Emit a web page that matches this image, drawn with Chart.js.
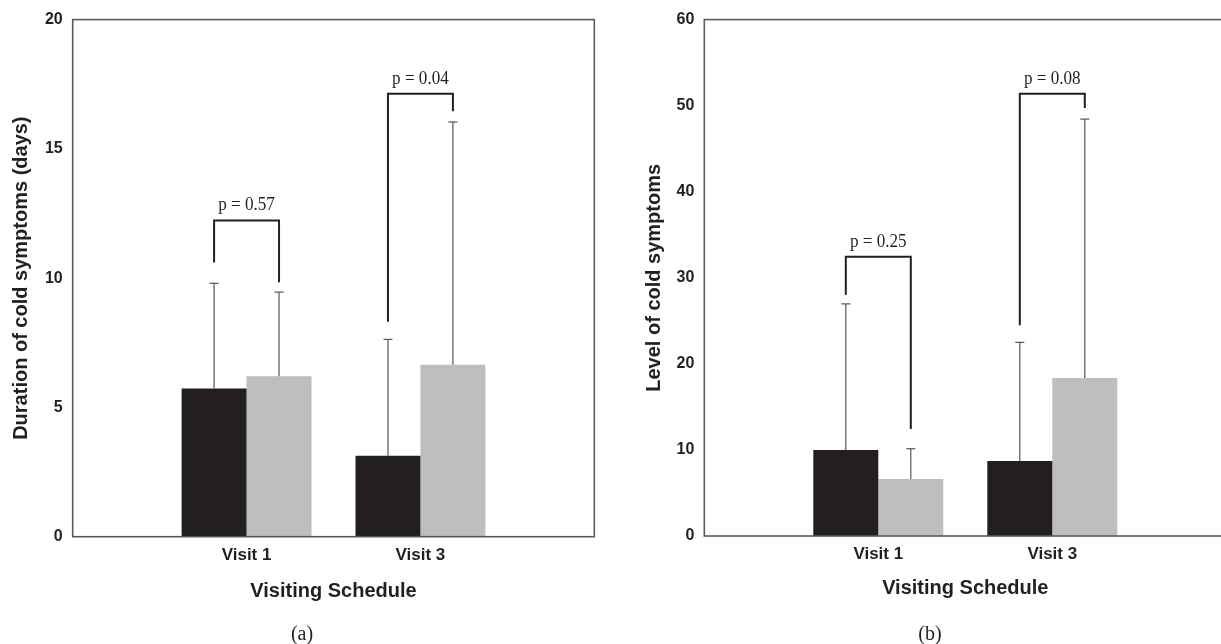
<!DOCTYPE html>
<html><head><meta charset="utf-8">
<script src="https://cdn.jsdelivr.net/npm/chart.js@4.4.1/dist/chart.umd.min.js"></script>
<style>
html,body{margin:0;padding:0;background:#fff;width:1221px;height:644px;overflow:hidden;position:relative}
.box{position:absolute;top:0;height:644px}
.cap{position:absolute;font-family:"Liberation Serif","Times New Roman",serif;font-size:20px;line-height:20px;color:#231f20;transform:translateX(-50%)}
</style></head><body>
<div class="box" style="left:0;width:610px"><canvas id="cA"></canvas></div>
<div class="box" style="left:610px;width:632px"><canvas id="cB"></canvas></div>
<div class="cap" style="left:302px;top:623px">(a)</div>
<div class="cap" style="left:930px;top:623px">(b)</div>
<script>
const categories = ['Visit 1', 'Visit 3'];

// Panel (a): duration of cold symptoms (days)
const durationBlack = [5.73, 3.13];
const durationGray = [6.21, 6.65];
const durationBlackErr = [9.80, 7.63];
const durationGrayErr = [9.46, 16.04];
const durationBracketTop = [12.23, 17.13];
const durationBracketLeftEnd = [10.61, 8.31];
const durationBracketRightEnd = [9.84, 16.46];
const durationP = ['p = 0.57', 'p = 0.04'];
const durationTicks = [0, 5, 10, 15, 20];

// Panel (b): level of cold symptoms
const levelBlack = [10.0, 8.72];
const levelGray = [6.62, 18.37];
const levelBlackErr = [26.97, 22.5];
const levelGrayErr = [10.14, 48.44];
const levelBracketTop = [32.45, 51.39];
const levelBracketLeftEnd = [28.04, 24.49];
const levelBracketRightEnd = [12.43, 49.74];
const levelP = ['p = 0.25', 'p = 0.08'];
const levelTicks = [0, 10, 20, 30, 40, 50, 60];

Chart.defaults.font.family = '"Liberation Sans", Arial, sans-serif';
Chart.defaults.color = '#231f20';

const pad = arr => [null, ...arr, null];

function makeAnnot(errs, bTop, bL, bR, pTxt) {
  return {
    id: 'annot',
    afterDatasetsDraw(chart) {
      const ctx = chart.ctx, ys = chart.scales.y, a = chart.chartArea;
      const line = (x1, y1, x2, y2) => { ctx.beginPath(); ctx.moveTo(x1, y1); ctx.lineTo(x2, y2); ctx.stroke(); };
      ctx.save();
      ctx.strokeStyle = '#5a5a5a'; ctx.lineWidth = 1.6;
      ctx.strokeRect(a.left, a.top, a.right - a.left, a.bottom - a.top);
      errs.forEach((err, di) => {
        const meta = chart.getDatasetMeta(di);
        err.forEach((e, k) => {
          const el = meta.data[k + 1];
          const yt = ys.getPixelForValue(e);
          ctx.strokeStyle = '#555'; ctx.lineWidth = 1.2;
          line(el.x, el.y, el.x, yt);
          line(el.x - 4.5, yt, el.x + 4.5, yt);
        });
      });
      const m0 = chart.getDatasetMeta(0), m1 = chart.getDatasetMeta(1);
      bTop.forEach((t, k) => {
        const xl = m0.data[k + 1].x, xr = m1.data[k + 1].x;
        const yt = ys.getPixelForValue(t);
        ctx.strokeStyle = '#231f20'; ctx.lineWidth = 2;
        ctx.beginPath();
        ctx.moveTo(xl, ys.getPixelForValue(bL[k]));
        ctx.lineTo(xl, yt); ctx.lineTo(xr, yt);
        ctx.lineTo(xr, ys.getPixelForValue(bR[k]));
        ctx.stroke();
        ctx.save();
        ctx.fillStyle = '#231f20';
        ctx.font = '19px "Liberation Serif", "Times New Roman", serif';
        ctx.textAlign = 'center'; ctx.textBaseline = 'alphabetic';
        ctx.translate((xl + xr) / 2, yt - 10);
        ctx.scale(0.9, 1);
        ctx.fillText(pTxt[k], 0, 0);
        ctx.restore();
      });
      ctx.restore();
    }
  };
}

function makeChart(id, black, gray, ticks, yTitle, yWidth, titlePadTop, xTitlePadBottom, xHeight, padTop, padRight, annot) {
  return new Chart(document.getElementById(id), {
    type: 'bar',
    data: {
      labels: pad(categories),
      datasets: [
        { data: pad(black), backgroundColor: '#231f20', borderWidth: 0 },
        { data: pad(gray), backgroundColor: '#bcbec0', borderWidth: 0 }
      ]
    },
    options: {
      responsive: true, maintainAspectRatio: false, animation: false,
      layout: { padding: { top: padTop, right: padRight, left: 0, bottom: 0 } },
      datasets: { bar: { categoryPercentage: 0.747, barPercentage: 1 } },
      plugins: { legend: { display: false }, tooltip: { enabled: false } },
      scales: {
        x: {
          type: 'category', offset: false,
          grid: { display: false, drawTicks: false },
          border: { display: false },
          ticks: { padding: 8, font: { size: 17, weight: 'bold' }, color: '#231f20', autoSkip: false, maxRotation: 0 },
          title: { display: true, text: 'Visiting Schedule', font: { size: 20, weight: 'bold' }, color: '#231f20', padding: { top: 0, bottom: xTitlePadBottom } },
          afterFit: s => { s.height = xHeight; }
        },
        y: {
          min: ticks[0], max: ticks[ticks.length - 1],
          grid: { display: false, drawTicks: false },
          border: { display: false },
          ticks: { stepSize: ticks[1] - ticks[0], padding: 10, font: { size: 16, weight: 'bold' }, color: '#231f20' },
          title: { display: true, text: yTitle, font: { size: 20, weight: 'bold' }, color: '#231f20', padding: { top: titlePadTop, bottom: 0 } },
          afterFit: s => { s.width = yWidth; }
        }
      }
    },
    plugins: [annot]
  });
}

makeChart('cA', durationBlack, durationGray, durationTicks, 'Duration of cold symptoms (days)', 72.7, 9, 41, 644 - 536.7, 15, 15.7,
  makeAnnot([durationBlackErr, durationGrayErr], durationBracketTop, durationBracketLeftEnd, durationBracketRightEnd, durationP));
makeChart('cB', levelBlack, levelGray, levelTicks, 'Level of cold symptoms', 94.3, 32, 43.7, 644 - 536, 13.3, 15.7,
  makeAnnot([levelBlackErr, levelGrayErr], levelBracketTop, levelBracketLeftEnd, levelBracketRightEnd, levelP));
</script>
</body></html>
